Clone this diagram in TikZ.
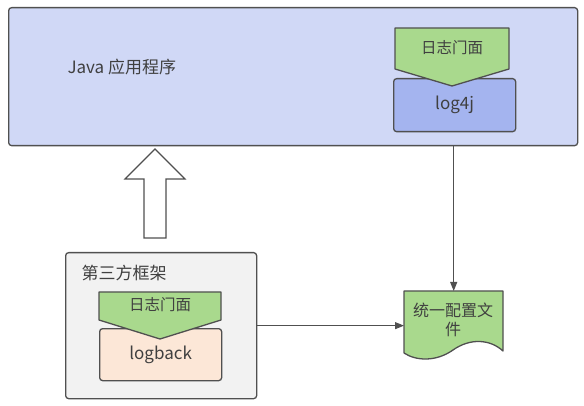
\documentclass[tikz,border=0pt]{standalone}
\usepackage{fontspec}
\setmainfont{Noto Sans CJK SC}
\usetikzlibrary{arrows.meta,positioning,calc}
\definecolor{appblue}{HTML}{D0D8F6}
\definecolor{implblue}{HTML}{A4B4EF}
\definecolor{facadegreen}{HTML}{A9D98D}
\definecolor{peach}{HTML}{FCE7D7}
\definecolor{libgray}{HTML}{F2F2F2}
\definecolor{edgegray}{HTML}{505050}
\definecolor{txtgray}{HTML}{404040}

\begin{document}
\begin{tikzpicture}[x=1pt, y=-1pt,
    box/.style={draw=edgegray, line width=1.3pt, rounded corners=3pt, inner sep=0pt},
    facade/.style={draw=edgegray, line width=1.3pt, fill=facadegreen, line join=round},
    lbl/.style={font=\fontsize{17}{20}\selectfont, text=txtgray},
    small/.style={font=\fontsize{15.5}{19}\selectfont, text=txtgray},
    flow/.style={draw=edgegray, line width=1pt, -{Triangle[length=9pt, width=7pt]}}]
  \useasboundingbox (0,0) rectangle (584,406);

  % Java application
  \node[box, fill=appblue, minimum width=569pt, minimum height=138pt, anchor=north west] (app) at (8,7) {};
  \node[lbl, anchor=west] (appname) at (64,67) {Java 应用程序};

  % log4j with its facade on top
  \node[box, fill=implblue, minimum width=122pt, minimum height=53pt, anchor=north west, lbl] (log4j) at (393,78) {log4j};
  \draw[facade] (395,28) -- (509,28) -- (509,69) -- (452,86) -- (395,69) -- cycle;
  \node[small] (facadeA) at (452,48) {日志门面};

  % third-party framework
  \node[box, fill=libgray, minimum width=191pt, minimum height=146pt, anchor=north west] (lib) at (65,252) {};
  \node[lbl, anchor=west] (libname) at (78,273) {第三方框架};
  \node[box, fill=peach, minimum width=122pt, minimum height=52pt, anchor=north west, lbl] (logback) at (99,328) {logback};
  \draw[facade] (99,292) -- (221,292) -- (221,320) -- (160,339) -- (99,320) -- cycle;
  \node[small] (facadeB) at (160,305) {日志门面};

  % hollow arrow up
  \draw[edgegray, line width=1.2pt, fill=white, line join=miter]
    (144,238) -- (144,179) -- (125,179) -- (155,149) -- (185,179) -- (166,179) -- (166,238) -- cycle;

  % unified config file
  \node[minimum width=99pt, minimum height=60pt, anchor=north west, inner sep=0pt] (cfg) at (404,291) {};
  \draw[facade] (404,291) -- (503,291) -- (503,351)
    .. controls (490,339) and (470,338) .. (453,350)
    .. controls (436,362) and (416,361) .. (404,353) -- cycle;
  \node[font=\fontsize{16}{19}\selectfont, text=txtgray, align=center] (cfgtext) at (453,320) {统一配置文\\件};

  % connectors
  \draw[flow] (app.south -| cfg.north) -- (cfg.north);
  \draw[flow] (lib.east) -- (lib.east -| cfg.west);
\end{tikzpicture}
\end{document}
